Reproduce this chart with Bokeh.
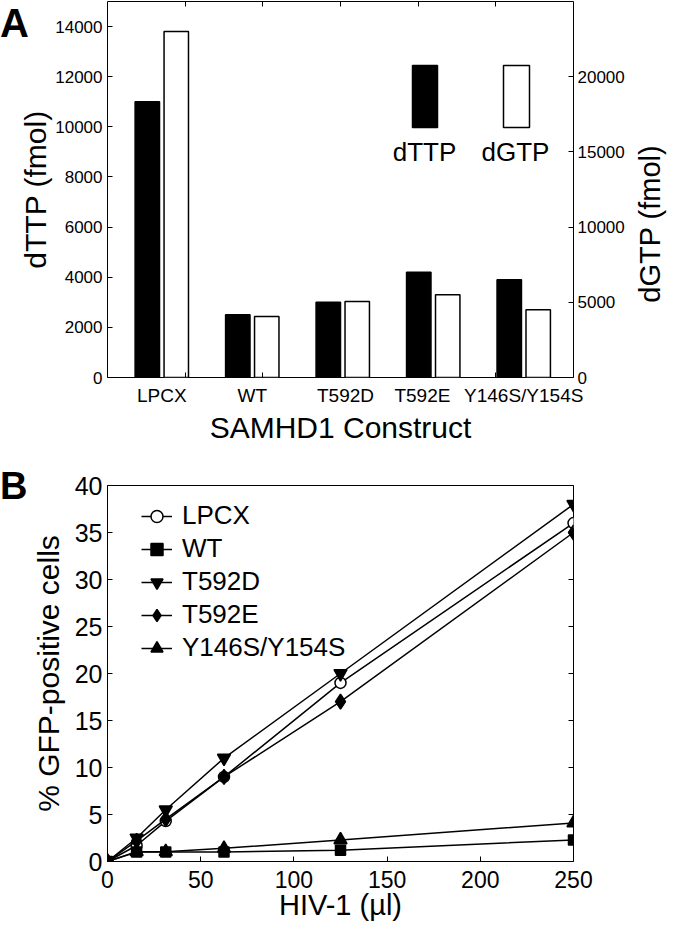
from bokeh.plotting import figure
from bokeh.models import (Range1d, LinearAxis, FixedTicker, Label, BoxAnnotation,
                          Legend, LegendItem, CustomJSTickFormatter, Div, GridBox)
from bokeh.embed import file_html
from bokeh.resources import INLINE

FONT = "Liberation Sans"

# ---------------- data: panel A ----------------
constructs = ["LPCX", "WT", "T592D", "T592E", "Y146S/Y154S"]
dttp_fmol = [11000, 2500, 3000, 4200, 3900]
dgtp_fmol = [23000, 4050, 5050, 5500, 4500]
dttp_ticks = [0, 2000, 4000, 6000, 8000, 10000, 12000, 14000]
dgtp_ticks = [0, 5000, 10000, 15000, 20000]
label_nudge = [0.0, 0.0, 0.03, -0.12, 0.0]   # label placement only

# ---------------- data: panel B ----------------
hiv_ul = [0, 15.625, 31.25, 62.5, 125, 250]
gfp_lpcx = [0, 1.7, 4.3, 9.0, 19.0, 36.0]
gfp_wt = [0, 1.0, 1.0, 1.0, 1.2, 2.3]
gfp_t592d = [0, 2.5, 5.5, 11.0, 20.0, 38.0]
gfp_t592e = [0, 2.2, 4.5, 9.0, 17.0, 35.0]
gfp_y146s = [0, 1.05, 1.05, 1.4, 2.3, 4.1]
series_names = ["LPCX", "WT", "T592D", "T592E", "Y146S/Y154S"]
hiv_ticks = [0, 50, 100, 150, 200, 250]
gfp_ticks = [0, 5, 10, 15, 20, 25, 30, 35, 40]


def style_axis(ax, size):
    ax.axis_line_color = None
    ax.major_tick_line_color = "black"
    ax.minor_tick_line_color = "black"
    ax.major_tick_in = 5
    ax.major_tick_out = 0
    ax.minor_tick_in = 0
    ax.minor_tick_out = 0
    ax.major_label_text_font = FONT
    ax.major_label_text_font_size = size
    ax.major_label_text_color = "black"
    ax.axis_label_text_font = FONT
    ax.axis_label_text_font_style = "normal"
    ax.axis_label_text_font_size = "30px"
    ax.axis_label_text_color = "black"


def tick_only_axis(**kw):
    ax = LinearAxis(formatter=CustomJSTickFormatter(code="return ''"), **kw)
    style_axis(ax, "1px")
    ax.major_label_standoff = 0
    return ax


def letter_div(txt, size, left, top):
    html = ("<div style=\"position:relative; top:%dpx; left:%dpx; margin:0; "
            "font-family:'Liberation Sans', Arial, sans-serif; font-weight:bold; "
            "font-size:%dpx; line-height:%dpx; color:black;\">%s</div>"
            % (top, left, size, size, txt))
    return Div(text=html, width=40, height=60, margin=0, styles={"z-index": "10"})


def vertical_text_div(txt, size, cx, cy, w, h):
    # text rotated to read bottom-to-top, centred on (cx, cy) in figure pixels
    html = ("<div style=\"position:relative; left:%dpx; top:%dpx; width:%dpx; "
            "height:%dpx; line-height:%dpx; text-align:center; white-space:nowrap; "
            "margin:0; font-family:'Liberation Sans', Arial, sans-serif; "
            "font-size:%dpx; color:black; transform:rotate(-90deg);\">%s</div>"
            % (cx - 100, cy - 15, 200, 30, 30, size, txt))
    return Div(text=html, width=w, height=h, margin=0, styles={"z-index": "10"})


# ================= Panel A =================
pA = figure(width=659, height=449, output_backend="svg", toolbar_location=None,
            x_range=Range1d(0.4, 5.55), y_range=Range1d(0, 15000),
            x_axis_type=None, y_axis_type=None,
            min_border_left=102, min_border_right=86, min_border_top=1,
            min_border_bottom=72)
pA.extra_y_ranges = {"dgtp": Range1d(0, 25000)}
pA.outline_line_color = "black"
pA.outline_line_width = 1
pA.border_fill_alpha = 0

idx = list(range(1, len(constructs) + 1))
tickmarks = [0.4 + i * (5.15 / 6) for i in range(1, 6)]
label_pos = [i + n for i, n in zip(idx, label_nudge)]

pA.vbar(x=[i - 0.16 for i in idx], top=dttp_fmol, width=0.27,
        fill_color="black", line_color="black", line_width=1.5)
pA.vbar(x=[i + 0.16 for i in idx], top=dgtp_fmol, width=0.27,
        fill_color="white", line_color="black", line_width=1.5,
        y_range_name="dgtp")

axL = LinearAxis(ticker=FixedTicker(ticks=dttp_ticks), axis_label="dTTP (fmol)")
style_axis(axL, "17px")
axL.major_label_standoff = 5
axL.axis_label_standoff = 0
pA.add_layout(axL, "left")

axR = LinearAxis(y_range_name="dgtp", ticker=FixedTicker(ticks=dgtp_ticks))
style_axis(axR, "17px")
axR.major_label_standoff = 4
pA.add_layout(axR, "right")

axB = LinearAxis(ticker=FixedTicker(ticks=label_pos, minor_ticks=tickmarks),
                 axis_label="SAMHD1 Construct",
                 major_label_overrides={pos: c for pos, c in zip(label_pos, constructs)})
style_axis(axB, "19px")
axB.major_tick_in = 0
axB.minor_tick_in = 5
axB.major_label_standoff = 7
axB.axis_label_standoff = 2
pA.add_layout(axB, "below")

pA.add_layout(tick_only_axis(ticker=FixedTicker(ticks=tickmarks)), "above")

# legend for panel A (swatches with their labels below)
pA.add_layout(BoxAnnotation(left=305, right=330, bottom=250, top=312,
                            left_units="screen", right_units="screen",
                            bottom_units="screen", top_units="screen",
                            fill_color="black", fill_alpha=1, line_color="black",
                            line_width=1.5, line_alpha=1))
pA.add_layout(BoxAnnotation(left=396, right=422, bottom=250, top=312,
                            left_units="screen", right_units="screen",
                            bottom_units="screen", top_units="screen",
                            fill_color="white", fill_alpha=1, line_color="black",
                            line_width=1.5, line_alpha=1))
for xx, txt in [(317, "dTTP"), (408, "dGTP")]:
    pA.add_layout(Label(x=xx, y=226, x_units="screen", y_units="screen", text=txt,
                        text_align="center", text_baseline="alphabetic",
                        text_font=FONT, text_font_size="26px", text_color="black"))

# ================= Panel B =================
pB = figure(width=659, height=476, output_backend="svg", toolbar_location=None,
            x_range=Range1d(0, 250), y_range=Range1d(0, 40),
            x_axis_type=None, y_axis_type=None,
            min_border_left=107, min_border_right=81, min_border_top=36,
            min_border_bottom=64)
pB.outline_line_color = "black"
pB.outline_line_width = 1
pB.border_fill_alpha = 0

bL = LinearAxis(ticker=FixedTicker(ticks=gfp_ticks), axis_label="% GFP-positive cells")
style_axis(bL, "25px")
bL.major_label_standoff = 5
bL.axis_label_standoff = 7
pB.add_layout(bL, "left")

bB = LinearAxis(ticker=FixedTicker(ticks=hiv_ticks), axis_label="HIV-1 (µl)")
style_axis(bB, "23px")
bB.axis_label_text_font_size = "29px"
bB.major_label_standoff = 9
bB.axis_label_standoff = -2
pB.add_layout(bB, "below")

pB.add_layout(tick_only_axis(ticker=FixedTicker(ticks=gfp_ticks)), "right")

series = [
    (gfp_lpcx, "circle", 11, "white"),
    (gfp_wt, "square", 10, "black"),
    (gfp_t592d, "inverted_triangle", 13, "black"),
    (gfp_t592e, "diamond", 15, "black"),
    (gfp_y146s, "triangle", 13, "black"),
]
items = []
for name, (ys, mk, sz, fc) in zip(series_names, series):
    rl = pB.line(hiv_ul, ys, line_color="black", line_width=1.5)
    rs = pB.scatter(hiv_ul, ys, marker=mk, size=sz, fill_color=fc,
                    line_color="black", line_width=1.5)
    items.append(LegendItem(label=name, renderers=[rl, rs]))

leg = Legend(items=items, location=(34, 198), padding=0, margin=0,
             border_line_color=None, background_fill_alpha=0,
             label_text_font=FONT, label_text_font_size="26px",
             label_text_color="black", glyph_width=31, glyph_height=30,
             label_height=30, spacing=2, label_standoff=10)
pB.add_layout(leg)

divA = letter_div("A", 40, 0, 3)
divB = letter_div("B", 38, 0, 18)
divR = vertical_text_div("dGTP (fmol)", 29, 650, 224, 659, 449)

layout = GridBox(children=[(pA, 0, 0), (divA, 0, 0), (divR, 0, 0),
                           (pB, 1, 0), (divB, 1, 0)],
                 spacing=0)
open("out.html", "w").write(file_html(layout, INLINE))
